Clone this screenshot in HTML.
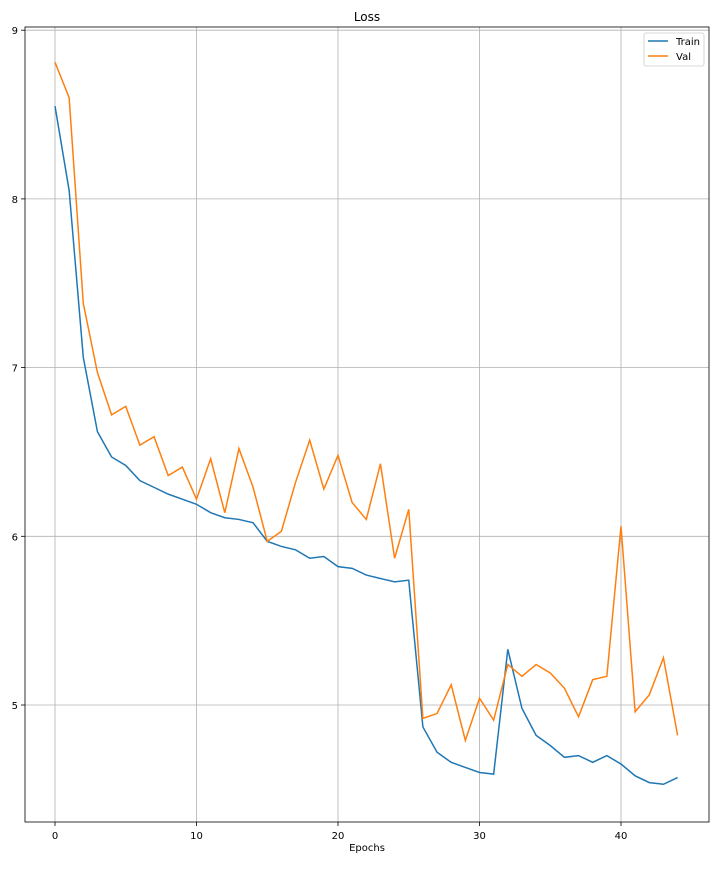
<!DOCTYPE html>
<html><head><meta charset="utf-8"><style>
body{margin:0;background:#fff;font-family:"Liberation Sans","DejaVu Sans",sans-serif}
svg text{font-family:"DejaVu Sans","Liberation Sans",sans-serif}
</style></head><body>
<svg id="chart" width="720" height="864" xmlns="http://www.w3.org/2000/svg"></svg>
<script>
const epochs=[...Array(45).keys()];
const trainLoss=[8.55,8.05,7.06,6.62,6.47,6.42,6.33,6.29,6.25,6.22,6.19,6.14,6.11,6.10,6.08,5.97,5.94,5.92,5.87,5.88,5.82,5.81,5.77,5.75,5.73,5.74,4.87,4.72,4.66,4.63,4.60,4.59,5.33,4.98,4.82,4.76,4.69,4.70,4.66,4.70,4.65,4.58,4.54,4.53,4.57];
const valLoss=[8.81,8.60,7.38,6.97,6.72,6.77,6.54,6.59,6.36,6.41,6.22,6.46,6.14,6.52,6.29,5.97,6.03,6.32,6.57,6.28,6.48,6.20,6.10,6.43,5.87,6.16,4.92,4.95,5.12,4.79,5.04,4.91,5.24,5.17,5.24,5.19,5.10,4.93,5.15,5.17,6.06,4.96,5.06,5.28,4.82];
const xTicks=[0,10,20,30,40];
const yTicks=[5,6,7,8,9];
const L=25,R=709,T=27,B=822;
const xS=v=>55+(v)*14.15;
const yS=v=>705-(v-5)*168.7;
const svg=document.getElementById('chart');
const NS='http://www.w3.org/2000/svg';
function mk(tag,attrs,parent){const e=document.createElementNS(NS,tag);for(const k in attrs)e.setAttribute(k,attrs[k]);(parent||svg).appendChild(e);return e;}
const grid=mk('g',{});


xTicks.forEach(t=>{
 const x=xS(t);
 const l=mk('line',{x1:x,x2:x,y1:T,y2:B,stroke:'#b0b0b0','stroke-width':0.8},grid);
 
 
 mk('line',{x1:x,x2:x,y1:B,y2:B+4,stroke:'#000','stroke-width':0.8});
 const tx=mk('text',{x:x,y:B+17,'font-size':10,'text-anchor':'middle'});
 tx.textContent=t;
 
 
});
yTicks.forEach(t=>{
 const y=yS(t);
 const l=mk('line',{x1:L,x2:R,y1:y,y2:y,stroke:'#b0b0b0','stroke-width':0.8},grid);
 
 
 mk('line',{x1:L-4,x2:L,y1:y,y2:y,stroke:'#000','stroke-width':0.8});
 const tx=mk('text',{x:L-7,y:y+4,'font-size':10,'text-anchor':'end'});
 tx.textContent=t;
 
 
});
function series(data,color,name){
 const p=mk('polyline',{points:data.map((v,i)=>xS(epochs[i])+','+yS(v)).join(' '),fill:'none',stroke:color,'stroke-width':1.5});
 
 
}
series(trainLoss,'#1f77b4','train-line');
series(valLoss,'#ff7f0e','val-line');
const fr=mk('rect',{x:L,y:T,width:R-L,height:B-T,fill:'none',stroke:'#000','stroke-width':0.8});


const title=mk('text',{x:367,y:21,'font-size':12,'text-anchor':'middle'});
title.textContent='Loss';


const xl=mk('text',{x:367,y:851,'font-size':10,'text-anchor':'middle'});
xl.textContent='Epochs';


const lg=mk('g',{});


mk('rect',{x:644,y:33,width:60,height:33,rx:2,fill:'#fff','fill-opacity':0.8,stroke:'#ccc','stroke-width':0.8},lg);
[['Train','#1f77b4'],['Val','#ff7f0e']].forEach((d,i)=>{
 const y=41+i*15;
 mk('line',{x1:648,x2:668,y1:y,y2:y,stroke:d[1],'stroke-width':1.5},lg);
 const t=mk('text',{x:676,y:y+4,'font-size':10},lg);
 t.textContent=d[0];
 
 
});
</script>
</body></html>
